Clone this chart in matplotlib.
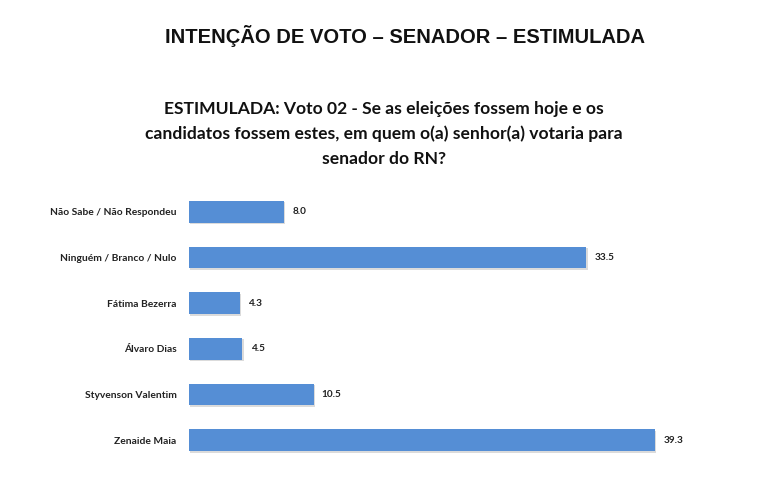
import matplotlib.pyplot as plt
import matplotlib.patheffects as pe

categories = ["Não Sabe / Não Respondeu", "Ninguém / Branco / Nulo", "Fátima Bezerra",
              "Álvaro Dias", "Styvenson Valentim", "Zenaide Maia"]
values = [8.0, 33.5, 4.3, 4.5, 10.5, 39.3]

W, H = 761, 492
fig = plt.figure(figsize=(W/100, H/100), dpi=100)
fig.patch.set_facecolor("white")

left, right, top, bottom = 189, 700, 189, 463
ax = fig.add_axes([left/W, 1-bottom/H, (right-left)/W, (bottom-top)/H])
xmax = (right-left)/11.86
ypos = list(range(len(categories)))
bars = ax.barh(ypos, values, height=0.48, color="#558ED5", edgecolor="none")
for b in bars:
    b.set_path_effects([pe.SimplePatchShadow(offset=(1, -1), shadow_rgbFace="#999999", alpha=0.35), pe.Normal()])
ax.set_xlim(0, xmax)
ax.set_ylim(len(categories)-0.5, -0.5)
ax.set_yticks(ypos)
ax.set_yticklabels(categories, fontfamily="Lato", fontweight="bold", fontsize=7.4, color="#222222")
ax.tick_params(axis="y", length=0, pad=9)
ax.set_xticks([])
for s in ax.spines.values():
    s.set_visible(False)
for y, v in zip(ypos, values):
    ax.text(v + 0.7, y, f"{v:.1f}", va="center", ha="left", fontfamily="Lato",
            fontweight="bold", fontsize=7.2, color="#222222")

fig.text(405/W, 1-36/H, "INTENÇÃO DE VOTO – SENADOR – ESTIMULADA", ha="center", va="center",
         fontfamily="Liberation Sans", fontweight="bold", fontsize=14.5, color="#111111")
fig.text(384/W, 1-134/H,
         "ESTIMULADA: Voto 02 - Se as eleições fossem hoje e os\ncandidatos fossem estes, em quem o(a) senhor(a) votaria para\nsenador do RN?",
         ha="center", va="center", fontfamily="Lato", fontweight="bold", fontsize=12.6,
         color="#111111", linespacing=1.62)

fig.savefig("out.png", dpi=100)
